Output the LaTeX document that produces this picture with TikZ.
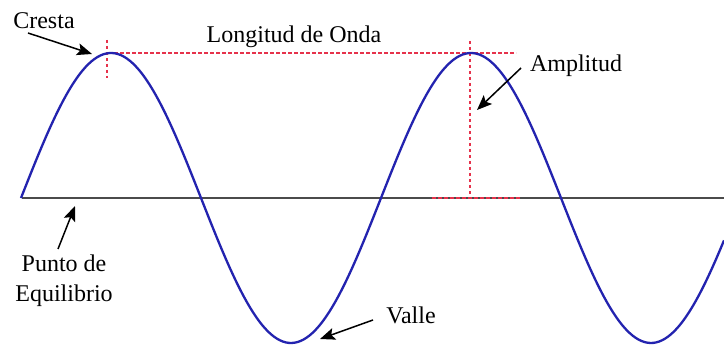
\documentclass[tikz,border=0pt]{standalone}
\usepackage{fontspec}
\setmainfont{Liberation Serif}
\usetikzlibrary{arrows.meta}
\definecolor{waveblue}{RGB}{35,35,175}
\definecolor{dashred}{RGB}{230,50,75}
\definecolor{axisgray}{RGB}{75,75,75}
\tikzset{
  lbl/.style={font=\fontsize{24}{30}\selectfont, inner sep=0pt, align=center},
  pointer/.style={black, line width=1.5pt, -{Stealth[length=15pt,width=12pt,inset=3pt]}},
  guide/.style={dashred, line width=1.2pt, dash pattern=on 3.5pt off 2.5pt},
  wave/.style={waveblue, line width=2.3pt},
  axisline/.style={axisgray, line width=1.7pt}
}
\begin{document}
\begin{tikzpicture}[x=1pt,y=-1pt]
\useasboundingbox (0,0) rectangle (724,352);
\fill[white] (0,0) rectangle (724,352);
% axis
\coordinate (axL) at (22,198);
\coordinate (axR) at (724,198);
\draw[axisline] (axL) -- (axR);
% guides
\coordinate (c1top) at (107,40);
\coordinate (c1bot) at (107,78);
\coordinate (c1) at (108,53);
\coordinate (hEnd) at (516,53);
\coordinate (c2top) at (470,41);
\coordinate (c2bot) at (470,198);
\coordinate (bL) at (432,198);
\coordinate (bR) at (520,198);
\draw[guide] (c1top) -- (c1bot);
\draw[guide] (c1) -- (hEnd);
\draw[guide] (c2top) -- (c2bot);
\draw[guide] (bL) -- (bR);
% wave
\draw[wave] plot[domain=21:724, samples=240, smooth] ({\x},{198-145*sin(\x-21)});
% labels
\node[lbl] (cresta) at (44,21) {Cresta};
\node[lbl] (longitud) at (294,37) {Longitud de Onda};
\node[lbl] (amplitud) at (576,66) {Amplitud};
\node[lbl] (punto) at (64,281) {Punto de\\Equilibrio};
\node[lbl] (valle) at (411,315) {Valle};
% arrows
\coordinate (crestaTail) at (28,33);
\coordinate (crestaTip) at (92,54);
\coordinate (ampTail) at (521,68);
\coordinate (ampTip) at (477,110);
\coordinate (puntoTail) at (58,249);
\coordinate (puntoTip) at (75,206);
\coordinate (valleTail) at (373,320);
\coordinate (valleTip) at (320,339);
\draw[pointer] (crestaTail) -- (crestaTip);
\draw[pointer] (ampTail) -- (ampTip);
\draw[pointer] (puntoTail) -- (puntoTip);
\draw[pointer] (valleTail) -- (valleTip);
\end{tikzpicture}
\end{document}
